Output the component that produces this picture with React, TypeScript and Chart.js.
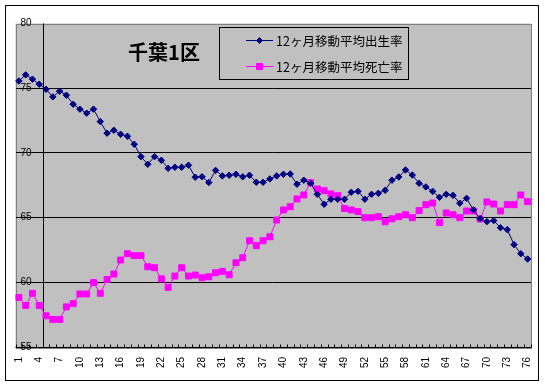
import React, { useEffect, useRef } from 'react';
import { Chart, registerables } from 'chart.js';

Chart.register(...registerables);

const categories = [
  '1','2','3','4','5','6','7','8','9','10','11','12','13','14','15','16','17','18','19','20',
  '21','22','23','24','25','26','27','28','29','30','31','32','33','34','35','36','37','38','39','40',
  '41','42','43','44','45','46','47','48','49','50','51','52','53','54','55','56','57','58','59','60',
  '61','62','63','64','65','66','67','68','69','70','71','72','73','74','75','76'
];

const birthRate = [
  75.56, 76.03, 75.70, 75.31, 74.92, 74.33, 74.77, 74.46, 73.76, 73.38,
  73.07, 73.38, 72.42, 71.52, 71.75, 71.44, 71.29, 70.67, 69.71, 69.12,
  69.71, 69.43, 68.81, 68.89, 68.89, 69.05, 68.12, 68.16, 67.71, 68.65,
  68.22, 68.27, 68.35, 68.15, 68.27, 67.73, 67.73, 67.99, 68.22, 68.35,
  68.37, 67.58, 67.89, 67.65, 66.80, 66.03, 66.42, 66.42, 66.42, 66.96,
  67.03, 66.42, 66.80, 66.88, 67.11, 67.89, 68.14, 68.68, 68.29, 67.65,
  67.37, 67.03, 66.57, 66.80, 66.72, 66.11, 66.49, 65.60, 64.92, 64.69,
  64.77, 64.22, 64.07, 62.91, 62.21, 61.80
];

const deathRate = [
  58.83, 58.21, 59.15, 58.21, 57.41, 57.13, 57.13, 58.10, 58.35, 59.10,
  59.10, 59.98, 59.15, 60.22, 60.64, 61.72, 62.21, 62.06, 62.06, 61.20,
  61.13, 60.27, 59.61, 60.48, 61.13, 60.48, 60.56, 60.35, 60.43, 60.74,
  60.85, 60.58, 61.51, 61.90, 63.21, 62.83, 63.21, 63.52, 64.81, 65.59,
  65.84, 66.44, 66.75, 67.70, 67.21, 67.08, 66.83, 66.69, 65.70, 65.59,
  65.46, 64.99, 64.99, 65.07, 64.68, 64.91, 65.07, 65.22, 64.99, 65.54,
  66.00, 66.13, 64.61, 65.36, 65.22, 64.99, 65.51, 65.51, 64.89, 66.21,
  66.05, 65.51, 66.00, 66.00, 66.75, 66.23
];

const yMin = 55;
const yMax = 80;
const yStep = 5;

const titleText = '千葉1区';
const birthLabel = '12ヶ月移動平均出生率';
const deathLabel = '12ヶ月移動平均死亡率';

const decorPlugin = {
  id: 'decor',
  beforeDraw(chart: any) {
    const { ctx, chartArea: a, width, height } = chart;
    ctx.save();
    ctx.fillStyle = '#ffffff';
    ctx.fillRect(0, 0, width, height);
    ctx.strokeStyle = '#000000';
    ctx.lineWidth = 1;
    ctx.strokeRect(5.5, 5.5, 533, 375);
    ctx.fillStyle = '#C0C0C0';
    ctx.fillRect(a.left, a.top, a.right - a.left, a.bottom - a.top);
    ctx.strokeStyle = '#808080';
    ctx.strokeRect(Math.round(a.left) + 0.5, Math.round(a.top) + 0.5,
      Math.round(a.right - a.left) - 1, Math.round(a.bottom - a.top));
    ctx.restore();
  },
  beforeDatasetsDraw(chart: any) {
    const { ctx, chartArea: a } = chart;
    const xs = chart.scales.x;
    ctx.save();
    ctx.strokeStyle = '#000000';
    ctx.lineWidth = 1;
    // vertical axis crossing between category 4 and 5
    const vx = Math.round(xs.getPixelForValue(3.5)) + 0.5;
    ctx.beginPath();
    ctx.moveTo(vx, a.top);
    ctx.lineTo(vx, a.bottom);
    ctx.stroke();
    // horizontal axis line
    const by = Math.round(a.bottom) + 0.5;
    ctx.beginPath();
    ctx.moveTo(a.left, by);
    ctx.lineTo(a.right, by);
    ctx.stroke();
    // small tick marks at category boundaries
    ctx.beginPath();
    for (let i = 0; i <= categories.length; i++) {
      const tx = Math.round(xs.getPixelForValue(i - 0.5)) + 0.5;
      ctx.moveTo(tx, by - 3);
      ctx.lineTo(tx, by);
    }
    ctx.stroke();
    ctx.restore();
  },
  afterDraw(chart: any) {
    const { ctx } = chart;
    ctx.save();
    // title inside plot
    ctx.fillStyle = '#000000';
    ctx.font = 'bold 20px "Noto Sans CJK JP", sans-serif';
    ctx.textAlign = 'center';
    ctx.textBaseline = 'middle';
    ctx.fillText(titleText, 164, 52);
    // legend box
    const bx = 219.5, byy = 27.5, bw = 189, bh = 52;
    ctx.fillStyle = '#C0C0C0';
    ctx.fillRect(bx, byy, bw, bh);
    ctx.strokeStyle = '#000000';
    ctx.lineWidth = 1;
    ctx.strokeRect(bx, byy, bw, bh);
    const rows = [40, 66];
    chart.data.datasets.forEach((ds: any, i: number) => {
      const y = rows[i];
      ctx.strokeStyle = ds.borderColor;
      ctx.lineWidth = 1;
      ctx.beginPath();
      ctx.moveTo(246, y + 0.5);
      ctx.lineTo(273, y + 0.5);
      ctx.stroke();
      ctx.fillStyle = ds.backgroundColor;
      ctx.strokeStyle = ds.borderColor;
      ctx.beginPath();
      if (ds.pointStyle === 'rectRot') {
        const r = 3;
        ctx.moveTo(259.5 - r, y + 0.5);
        ctx.lineTo(259.5, y + 0.5 - r);
        ctx.lineTo(259.5 + r, y + 0.5);
        ctx.lineTo(259.5, y + 0.5 + r);
        ctx.closePath();
      } else {
        ctx.rect(256.5, y - 2.5, 6, 6);
      }
      ctx.fill();
      ctx.stroke();
      ctx.fillStyle = '#000000';
      ctx.font = '12.5px "Noto Sans CJK JP", sans-serif';
      ctx.textAlign = 'left';
      ctx.textBaseline = 'middle';
      ctx.fillText(ds.label, 276, y + 1);
    });
    ctx.restore();
  }
};

export default function App() {
  const canvasRef = useRef<HTMLCanvasElement | null>(null);

  useEffect(() => {
    if (!canvasRef.current) return;
    const chart = new Chart(canvasRef.current, {
      type: 'line',
      data: {
        labels: categories,
        datasets: [
          {
            label: birthLabel,
            data: birthRate,
            borderColor: '#000080',
            backgroundColor: '#000080',
            borderWidth: 1,
            pointStyle: 'rectRot',
            pointRadius: 3.2,
            pointBorderWidth: 1,
            tension: 0,
          },
          {
            label: deathLabel,
            data: deathRate,
            borderColor: '#FF00FF',
            backgroundColor: '#FF00FF',
            borderWidth: 1,
            pointStyle: 'rect',
            pointRadius: 4.2,
            pointBorderWidth: 1,
            tension: 0,
          },
        ],
      },
      options: {
        responsive: false,
        animation: false,
        layout: { padding: { left: 15.5, right: 14, top: 23.5, bottom: 14 } },
        plugins: {
          legend: { display: false },
          title: { display: false },
          tooltip: { enabled: false },
        },
        scales: {
          x: {
            type: 'category',
            offset: true,
            grid: { display: false, drawTicks: false },
            border: { display: false },
            afterFit: (s: any) => {
              s.height = 24;
              s.paddingLeft = 0;
              s.paddingRight = 0;
            },
            ticks: {
              autoSkip: false,
              minRotation: 90,
              maxRotation: 90,
              padding: 10,
              color: '#000000',
              font: { family: '"Liberation Sans", Arial, sans-serif', size: 10 },
              callback: (_v: any, i: number) => (i % 3 === 0 ? categories[i] : ''),
            },
          },
          y: {
            min: yMin,
            max: yMax,
            afterFit: (s: any) => {
              s.width = 0;
              s.paddingTop = 0;
              s.paddingBottom = 0;
            },
            grid: {
              drawTicks: false,
              color: (c: any) => (c.tick && c.tick.value === yMax ? 'rgba(0,0,0,0)' : '#000000'),
              lineWidth: 1,
            },
            border: { display: false },
            ticks: {
              stepSize: yStep,
              mirror: true,
              padding: 5,
              color: '#000000',
              font: { family: '"Liberation Sans", Arial, sans-serif', size: 10 },
            },
          },
        },
      },
      plugins: [decorPlugin],
    } as any);
    return () => chart.destroy();
  }, []);

  return (
    <div style={{ position: 'absolute', left: 0, top: 0, width: 545, height: 385 }}>
      <canvas ref={canvasRef} width={545} height={385} style={{ display: 'block' }} />
    </div>
  );
}
